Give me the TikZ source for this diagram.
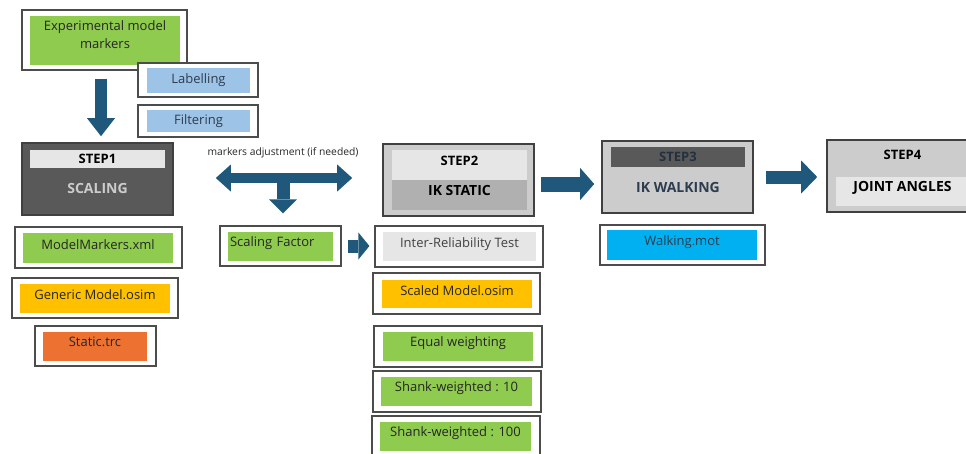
\documentclass[tikz,border=0pt]{standalone}
\usepackage{fontspec}
\setmainfont{Open Sans}
\usepackage{tikz}
\usetikzlibrary{arrows.meta, calc}

\definecolor{arrowblue}{RGB}{31,88,122}
\definecolor{boxgreen}{RGB}{142,203,78}
\definecolor{boxblue}{RGB}{157,195,230}
\definecolor{boxyellow}{RGB}{255,192,0}
\definecolor{boxorange}{RGB}{237,113,49}
\definecolor{boxcyan}{RGB}{0,176,240}
\definecolor{darkgrey}{RGB}{89,89,89}
\definecolor{midgrey}{RGB}{176,176,176}
\definecolor{lightgrey}{RGB}{204,204,204}
\definecolor{palegrey}{RGB}{230,230,230}
\definecolor{navytext}{RGB}{46,60,79}

\begin{document}
\begin{tikzpicture}[x=1pt, y=-1pt,
    frame/.style={draw=black!70, line width=1.2pt, fill=white, inner sep=0pt},
    stepframe/.style={draw=black!75, line width=1.6pt, inner sep=0pt},
    item/.style={inner sep=0pt, text=black!85, font=\fontsize{13}{18}\selectfont},
    steptext/.style={inner sep=0pt, font=\bfseries\fontsize{13}{15}\selectfont},
    stepname/.style={inner sep=0pt, font=\bfseries\fontsize{14}{16}\selectfont},
    raised/.style={text depth=#1},
    blockarrow/.style={arrowblue, line width=#1}]
    \clip (0,0) rectangle (966,453);

    % input markers
    \node[frame, minimum width=165pt, minimum height=60pt] (expf) at (104.5,40) {};
    \node[item, fill=boxgreen, minimum width=150pt, minimum height=49pt, align=center, raised=12pt] (exp) at (105,40.5) {Experimental model\\markers};
    \node[frame, minimum width=120pt, minimum height=34pt] (labf) at (198,80) {};
    \node[item, fill=boxblue, text=navytext, minimum width=103pt, minimum height=25pt] (lab) at (198.5,80.5) {Labelling};
    \node[frame, minimum width=120pt, minimum height=32pt] (filf) at (198,121) {};
    \node[item, fill=boxblue, text=navytext, minimum width=103pt, minimum height=22pt] (fil) at (198.5,121) {Filtering};

    % step 1
    \node[stepframe, fill=darkgrey, minimum width=151pt, minimum height=72pt] (step1) at (97.5,179) {};
    \node[steptext, fill=palegrey, minimum width=135pt, minimum height=18pt] (s1top) at (97.5,159) {STEP1};
    \node[stepname, text=lightgrey] (s1name) at (97.5,188) {SCALING};
    \node[frame, minimum width=167pt, minimum height=41pt] (mmf) at (98.5,247.5) {};
    \node[item, fill=boxgreen, minimum width=150pt, minimum height=30pt, raised=7pt] (mm) at (98,248) {ModelMarkers.xml};
    \node[frame, minimum width=166pt, minimum height=40pt] (gmf) at (95,298) {};
    \node[item, fill=boxyellow, minimum width=150pt, minimum height=29pt, raised=7pt] (gm) at (95,298.5) {Generic Model.osim};
    \node[frame, minimum width=121pt, minimum height=40pt] (stf) at (95.5,346) {};
    \node[item, fill=boxorange, minimum width=104pt, minimum height=29pt, raised=9pt] (st) at (95,346.5) {Static.trc};

    % markers adjustment
    \node[inner sep=0pt, font=\fontsize{10.3}{12}\selectfont, text=black!85] (adj) at (283,153) {markers adjustment (if needed)};
    \coordinate (tee) at (283,178);
    \node[frame, minimum width=121pt, minimum height=40pt] (sff) at (280.5,246) {};
    \node[item, fill=boxgreen, minimum width=105pt, minimum height=29pt, text width=101pt, align=left, raised=10pt] (sf) at (280.5,246.5) {Scaling Factor};

    % step 2
    \node[stepframe, fill=lightgrey, minimum width=151pt, minimum height=72pt] (step2) at (458.5,180) {};
    \node[steptext, fill=palegrey, minimum width=135pt, minimum height=30pt, raised=9pt] (s2top) at (459.5,165) {STEP2};
    \node[stepname, fill=midgrey, minimum width=135pt, minimum height=30pt, raised=9pt] (s2name) at (459.5,195) {IK STATIC};
    \node[frame, minimum width=168pt, minimum height=41pt] (irtf) at (459,246.5) {};
    \node[item, fill=palegrey, text=black!75, minimum width=153pt, minimum height=29pt, raised=7pt] (irt) at (459.5,246.5) {Inter-Reliability Test};
    \node[frame, minimum width=167pt, minimum height=41pt] (smf) at (456.5,293.5) {};
    \node[item, fill=boxyellow, minimum width=150pt, minimum height=28pt, raised=6pt] (sm) at (457,294) {Scaled Model.osim};
    \node[frame, minimum width=168pt, minimum height=41pt] (ewf) at (458,346.5) {};
    \node[item, fill=boxgreen, minimum width=150pt, minimum height=29pt, raised=9pt] (ew) at (458,346.5) {Equal weighting};
    \node[frame, minimum width=168pt, minimum height=41pt] (s10f) at (457,391.5) {};
    \node[item, fill=boxgreen, minimum width=151pt, minimum height=29pt, raised=9pt] (s10) at (456.5,391.5) {Shank-weighted : 10};
    \node[frame, minimum width=168pt, minimum height=41pt] (s100f) at (456,436.5) {};
    \node[item, fill=boxgreen, minimum width=151pt, minimum height=29pt, raised=9pt] (s100) at (455.5,436.5) {Shank-weighted : 100};

    % step 3
    \node[stepframe, fill=lightgrey, minimum width=151pt, minimum height=72pt] (step3) at (677.5,177) {};
    \node[steptext, fill=darkgrey, text=navytext!80!black, minimum width=134pt, minimum height=20pt] (s3top) at (678,157) {STEP3};
    \node[stepname, text=navytext] (s3name) at (678,187) {IK WALKING};
    \node[frame, minimum width=165pt, minimum height=40pt] (wmf) at (682.5,245) {};
    \node[item, fill=boxcyan, text=navytext, minimum width=150pt, minimum height=30pt, raised=9pt] (wm) at (682,245) {Walking.mot};

    % step 4
    \node[stepframe, fill=lightgrey, minimum width=151pt, minimum height=72pt] (step4) at (902.5,176) {};
    \node[steptext] (s4top) at (902.5,155) {STEP4};
    \node[stepname, fill=palegrey, minimum width=133pt, minimum height=29pt, raised=10pt] (s4name) at (902.5,191.5) {JOINT ANGLES};

    % block arrows
    \draw[blockarrow=12pt, -{Triangle[length=18pt, width=28pt, line width=0pt]}, shorten <=8pt, shorten >=6pt]
        ($(expf.south)+(-3.5,0)$) -- ($(step1.north)+(3.5,0)$);
    \draw[blockarrow=10pt, {Triangle[length=15pt, width=27pt, line width=0pt]}-{Triangle[length=15pt, width=27pt, line width=0pt]}, shorten <=42pt, shorten >=30pt]
        ([yshift=1pt]step1.east) -- ([yshift=2pt]step2.west);
    \draw[blockarrow=13pt, -{Triangle[length=14pt, width=28pt, line width=0pt]}, shorten >=12pt]
        (tee) -- (tee |- sff.north);
    \draw[blockarrow=13pt, -{Triangle[length=11pt, width=27pt, line width=0pt]}, shorten <=6pt, shorten >=5pt]
        (sff.east) -- (sff.east -| irtf.west);
    \draw[blockarrow=15pt, -{Triangle[length=14pt, width=32pt, line width=0pt]}, shorten <=6pt, shorten >=7pt]
        ([yshift=-4pt]step2.east) -- ([yshift=-7pt]step3.west);
    \draw[blockarrow=13pt, -{Triangle[length=16pt, width=33pt, line width=0pt]}, shorten <=12pt, shorten >=9pt]
        (step3.east) -- (step3.east -| step4.west);
\end{tikzpicture}
\end{document}
